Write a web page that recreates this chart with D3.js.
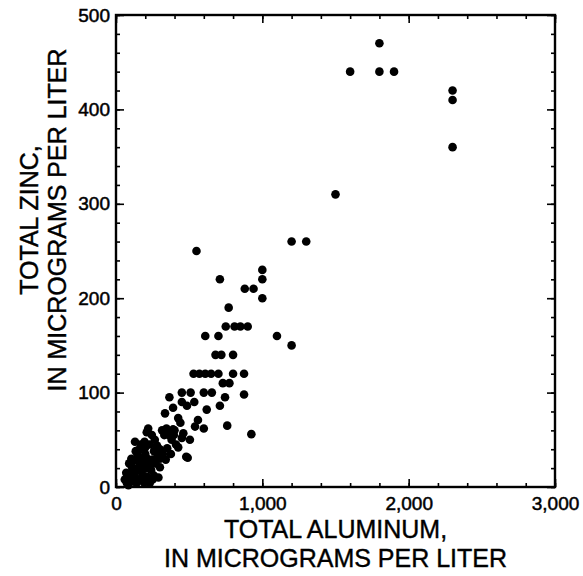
<body style="margin:0;background:#fff">
<svg></svg>
<script src="https://d3js.org/d3.v7.min.js"></script>
<script>

// total aluminum (x) and total zinc (y), micrograms per liter
var aluminum = [1600,1800,1800,1900,2300,2300,2300,1500,1200,1300,
  550,710,1000,1000,880,940,1000,770,750,810,850,900,1100,1200,610,700,
  680,720,800,530,570,610,650,700,800,875,730,775,450,510,600,655,745,875,
  365,450,535,335,390,485,620,710,425,560,600,540,760,925,130,210,315,390,
  490,280,350,425,450,505,460,150,185,250,300,115,210,95,140,75,230,110,
  175,340,480,220,160,200,230,260,120,90,70,100,130,160,180,200,240,270,
  320,380,400,360,300,150,190,260,85,60,
  105,125,145,165,170,195,215,235,245,265,285,300,330,345,375,395,410,440,
  250,200,135,110,180,290];
var zinc = [440,470,440,440,420,410,360,310,260,260,
  250,220,230,220,210,210,200,190,170,170,170,170,160,150,160,160,
  140,140,140,120,120,120,120,120,120,120,110,110,100,100,100,100,95,98,
  95,90,90,78,84,86,82,86,73,71,62,64,65,56,48,58,60,61,
  31,44,41,42,52,50,57,33,25,29,21,18,11,11,4,4,4,21,
  16,29,32,62,40,35,45,38,28,25,15,6,10,8,30,20,18,25,
  35,50,60,55,40,20,5,12,2,8,
  30,15,28,22,45,48,30,25,55,50,33,30,55,62,35,55,45,68,
  8,42,38,12,12,10];

var xTicks = [0, 1000, 2000, 3000];
var yTicks = [0, 100, 200, 300, 400, 500];

var width = 583, height = 576;
var plotLeft = 116, plotRight = 555, plotTop = 15, plotBottom = 487;
var fontFamily = "'Liberation Sans', Arial, sans-serif";

const svg = d3.select("svg")
    .attr("width", width)
    .attr("height", height)
    .style("font-family", fontFamily);

var x = d3.scaleLinear().domain([0, 3000]).range([plotLeft, plotRight]);
var y = d3.scaleLinear().domain([0, 500]).range([plotBottom, plotTop]);

var minorX = d3.range(0, 3001, 200);
var minorY = d3.range(0, 501, 20);

function styleAxis(g) {
  g.select(".domain").remove();
  g.attr("font-family", fontFamily).attr("font-size", 19);
  g.selectAll("line").attr("stroke", "#000").attr("stroke-width", 1.6);
  g.selectAll("text").attr("fill", "#000").attr("stroke", "#000").attr("stroke-width", 0.5);
}

// minor ticks, all four sides
svg.append("g").attr("transform", `translate(0,${plotBottom})`)
    .call(d3.axisBottom(x).tickValues(minorX).tickSize(-4).tickFormat("")).call(styleAxis);
svg.append("g").attr("transform", `translate(0,${plotTop})`)
    .call(d3.axisTop(x).tickValues(minorX).tickSize(-4).tickFormat("")).call(styleAxis);
svg.append("g").attr("transform", `translate(${plotLeft},0)`)
    .call(d3.axisLeft(y).tickValues(minorY).tickSize(-4).tickFormat("")).call(styleAxis);
svg.append("g").attr("transform", `translate(${plotRight},0)`)
    .call(d3.axisRight(y).tickValues(minorY).tickSize(-4).tickFormat("")).call(styleAxis);

// major ticks with labels
svg.append("g").attr("transform", `translate(0,${plotBottom})`)
    .call(d3.axisBottom(x).tickValues(xTicks).tickSize(-8).tickPadding(10).tickFormat(d3.format(",")))
    .call(styleAxis);
svg.append("g").attr("transform", `translate(0,${plotTop})`)
    .call(d3.axisTop(x).tickValues(xTicks).tickSize(-8).tickFormat("")).call(styleAxis);
svg.append("g").attr("transform", `translate(${plotLeft},0)`)
    .call(d3.axisLeft(y).tickValues(yTicks).tickSize(-8).tickPadding(6))
    .call(styleAxis);
svg.append("g").attr("transform", `translate(${plotRight},0)`)
    .call(d3.axisRight(y).tickValues(yTicks).tickSize(-8).tickFormat("")).call(styleAxis);

// frame
svg.append("rect")
    .attr("x", plotLeft).attr("y", plotTop)
    .attr("width", plotRight - plotLeft).attr("height", plotBottom - plotTop)
    .attr("fill", "none").attr("stroke", "#000").attr("stroke-width", 2.4);

// points
svg.append("g").selectAll("circle")
    .data(d3.range(aluminum.length))
    .join("circle")
      .attr("cx", i => x(aluminum[i]))
      .attr("cy", i => y(zinc[i]))
      .attr("r", 4.3)
      .attr("fill", "#000");

// axis titles
var cx = (plotLeft + plotRight) / 2;
function title(sel) {
  sel.attr("text-anchor", "middle").attr("fill", "#000")
     .attr("stroke", "#000").attr("stroke-width", 0.4)
     .style("font-size", "25px");
}
svg.append("text").attr("x", cx).attr("y", 538).call(title).text("TOTAL ALUMINUM,");
svg.append("text").attr("x", cx).attr("y", 567).call(title).text("IN MICROGRAMS PER LITER");

svg.append("text").attr("transform", "translate(38,220) rotate(-90)").call(title).text("TOTAL ZINC,");
svg.append("text").attr("transform", "translate(66,220) rotate(-90)").call(title).text("IN MICROGRAMS PER LITER");

</script>
</body>
